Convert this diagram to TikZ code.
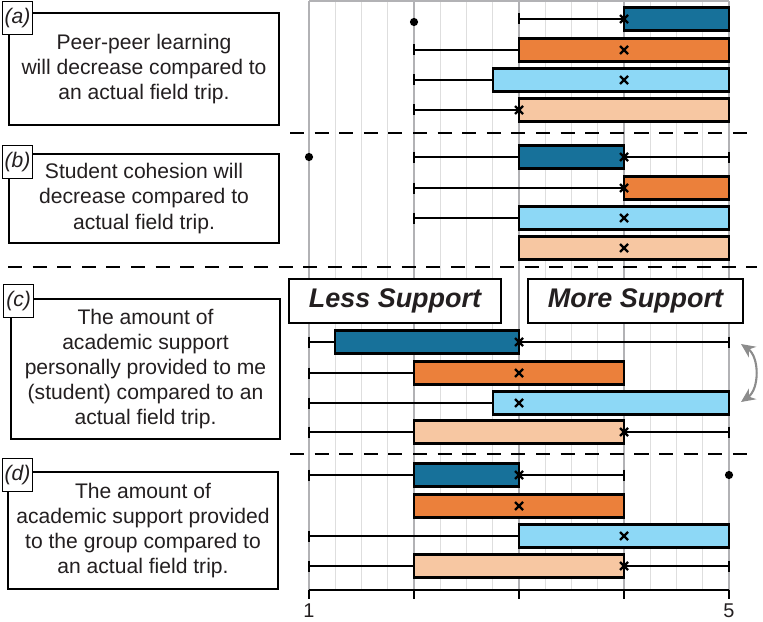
\documentclass[tikz,border=0pt]{standalone}
\usepackage{fontspec}
\setmainfont{Liberation Sans}
\usetikzlibrary{arrows.meta}

\definecolor{cdark}{HTML}{17719A}
\definecolor{corange}{HTML}{EB803B}
\definecolor{clight}{HTML}{8DD8F6}
\definecolor{cpeach}{HTML}{F7C7A2}
\definecolor{textgray}{HTML}{231F20}
\definecolor{gridmaj}{HTML}{B2B2B5}
\definecolor{gridmin}{HTML}{DEDEDE}

\tikzset{
  qbox/.style={draw=black, line width=1.6pt, fill=white, align=center, text=textgray,
               font=\fontsize{18}{21.5}\selectfont, inner sep=0pt},
  tag/.style={draw=black, line width=1pt, fill=white, text=textgray, anchor=north west,
              font=\fontsize{18}{20}\selectfont\itshape, inner sep=0pt,
              minimum width=0.9cm, minimum height=0.99cm},
  sidebox/.style={draw=black, line width=1.6pt, fill=white, text=textgray, inner sep=0pt,
                  font=\fontsize{23}{26}\selectfont\bfseries\itshape, minimum height=1.32cm},
  gridminor/.style={draw=gridmin, line width=0.8pt},
  gridmajor/.style={draw=gridmaj, line width=1.7pt},
  sep/.style={draw=black, line width=1.7pt, dash pattern=on 12pt off 9pt},
  whisk/.style={draw=black, line width=1.6pt},
  bx/.style={draw=black, line width=2pt},
  meanx/.style={draw=black, line width=2pt},
  ticklabel/.style={text=textgray, font=\fontsize{17}{20}\selectfont, anchor=base, inner sep=0pt},
  swap/.style={draw=black!45, line width=1.8pt, {Stealth[length=12pt,width=11pt]}-{Stealth[length=12pt,width=11pt]}}
}

\begin{document}
\begin{tikzpicture}[x=0.03cm, y=-0.03cm]
    % parameters
    \def\xo{309}   % position of the value 1
    \def\du{105}   % one unit of the scale
    \def\yb{590}   % axis line
    \def\hh{11.5}  % half height of a box
    \def\ch{5.5}   % half height of a whisker cap

    \useasboundingbox (0,0) rectangle (763,621);

    % grid
    \foreach \v in {1.25,1.5,...,4.8}{
        \pgfmathsetmacro{\x}{\xo+(\v-1)*\du}
        \draw[gridminor] (\x,1) -- (\x,\yb);
    }
    \foreach \v in {1,...,5}{
        \pgfmathsetmacro{\x}{\xo+(\v-1)*\du}
        \draw[gridmajor] (\x,1) -- (\x,\yb);
    }
    \draw[gridmajor] (\xo,1) -- (\xo+4*\du,1);

    % separators
    \draw[sep] (290,133) -- (757,133);
    \draw[sep] (8,267) -- (757,267);
    \draw[sep] (290,454) -- (757,454);

    % box plots: y / colour / lower whisker / q1 / q3 / upper whisker / mean
    \foreach \yr/\col/\wl/\qa/\qb/\wh/\mx in {
        19/cdark/3/4/5/5/4, 50/corange/2/3/5/5/4, 80/clight/2/2.75/5/5/4, 110/cpeach/2/3/5/5/3,
        157/cdark/2/3/4/5/4, 188/corange/2/4/5/5/4, 218/clight/2/3/5/5/4, 248/cpeach/3/3/5/5/4,
        342/cdark/1/1.25/3/5/3, 373/corange/1/2/4/4/3, 403/clight/1/2.75/5/5/3, 432/cpeach/1/2/4/5/4,
        475/cdark/1/2/3/4/3, 506/corange/2/2/4/4/3, 536/clight/1/3/5/5/4, 566/cpeach/1/2/4/5/4}{
        \pgfmathsetmacro{\xl}{\xo+(\wl-1)*\du}
        \pgfmathsetmacro{\xa}{\xo+(\qa-1)*\du}
        \pgfmathsetmacro{\xb}{\xo+(\qb-1)*\du}
        \pgfmathsetmacro{\xh}{\xo+(\wh-1)*\du}
        \pgfmathsetmacro{\xm}{\xo+(\mx-1)*\du}
        \draw[whisk] (\xl,\yr) -- (\xa,\yr) (\xb,\yr) -- (\xh,\yr);
        \draw[whisk] (\xl,\yr-\ch) -- (\xl,\yr+\ch) (\xh,\yr-\ch) -- (\xh,\yr+\ch);
        \draw[bx, fill=\col] (\xa,\yr-\hh) rectangle (\xb,\yr+\hh);
        \draw[meanx] (\xm-4,\yr-4) -- (\xm+4,\yr+4) (\xm-4,\yr+4) -- (\xm+4,\yr-4);
    }

    % outliers
    \fill (\xo+\du,22) circle (3.5pt);
    \fill (\xo,157) circle (3.5pt);
    \fill (\xo+4*\du,475) circle (3.5pt);

    % axis
    \draw[line width=1.6pt] (\xo,\yb) -- (\xo+4*\du,\yb);
    \foreach \v in {1,...,5}{
        \pgfmathsetmacro{\x}{\xo+(\v-1)*\du}
        \draw[line width=1.6pt] (\x,\yb) -- (\x,\yb+9);
    }
    \node[ticklabel] (one) at (\xo,617) {1};
    \node[ticklabel] (five) at (\xo+4*\du,617) {5};

    % statements
    \node[qbox, minimum width=8.1cm, minimum height=3.36cm] (qa) at (144,69)
        {Peer-peer learning\\will decrease compared to\\an actual field trip.};
    \node[qbox, minimum width=8.1cm, minimum height=2.67cm] (qb) at (144,198.5)
        {Student cohesion will\\decrease compared to\\actual field trip.};
    \node[qbox, minimum width=8.07cm, minimum height=4.2cm] (qc) at (145.5,369)
        {The amount of\\academic support\\personally provided to me\\(student) compared to an\\actual field trip.};
    \node[qbox, minimum width=8.1cm, minimum height=3.51cm] (qd) at (143,530.5)
        {The amount of\\academic support provided\\to the group compared to\\an actual field trip.};

    % panel tags
    \node[tag] (taga) at (2,1) {(a)};
    \node[tag] (tagb) at (2,145) {(b)};
    \node[tag] (tagc) at (3,284) {(c)};
    \node[tag] (tagd) at (2,458) {(d)};

    % support labels
    \node[sidebox, minimum width=6.36cm] (less) at (395,301) {Less Support};
    \node[sidebox, minimum width=6.45cm] (more) at (635.5,301) {More Support};

    % swap arrow
    \coordinate (swapa) at (741,344);
    \coordinate (swapb) at (741,402);
    \draw[swap] (swapa) to[bend left=55] (swapb);
\end{tikzpicture}
\end{document}
